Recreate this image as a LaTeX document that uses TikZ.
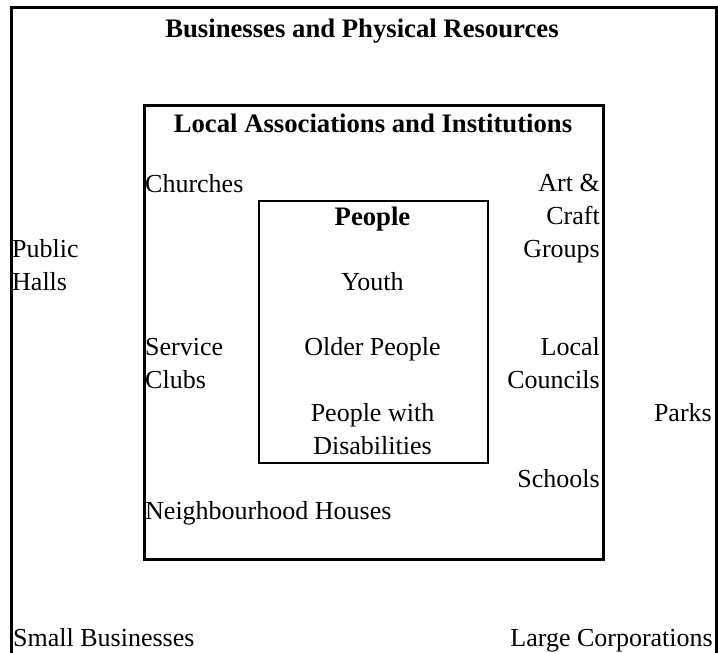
\documentclass[tikz,border=0pt]{standalone}
\usepackage{fontspec}
\setmainfont{Liberation Serif}
\begin{document}
\begin{tikzpicture}[x=1pt,y=-1pt,
  lbl/.style={inner sep=0pt, font=\fontsize{26}{33}\selectfont},
  ttl/.style={inner sep=0pt, font=\fontsize{26.7}{33}\selectfont\bfseries},
  box/.style={draw, line width=2.6pt, inner sep=0pt},
  ibox/.style={draw, line width=2.2pt, inner sep=0pt}]
\useasboundingbox (0,0) rectangle (718,653);
\clip (0,0) rectangle (718,653);
% boxes
\node[box, anchor=north west, minimum width=705pt, minimum height=680pt] (outer) at (10,6) {};
\node[box, anchor=north west, minimum width=459pt, minimum height=454pt] (middle) at (143,104) {};
\node[ibox, anchor=north west, minimum width=229pt, minimum height=262pt] (inner) at (258,200) {};
% outer labels
\node[ttl, anchor=base] (t1) at (362,37) {Businesses and Physical Resources};
\node[lbl, anchor=west, align=left] (halls) at (12,265.5) {Public\\Halls};
\node[lbl, anchor=base east] (parks) at (712,421) {Parks};
\node[lbl, anchor=base west] (small) at (13,646) {Small Businesses};
\node[lbl, anchor=base east] (large) at (713,646) {Large Corporations};
% middle labels
\node[ttl, anchor=base] (t2) at (373,132) {Local Associations and Institutions};
\node[lbl, anchor=base west] (churches) at (145,192) {Churches};
\node[lbl, anchor=east, align=right] (art) at (600,219) {Art \&\\Craft\\Groups};
\node[lbl, anchor=west, align=left] (service) at (145,363.5) {Service\\Clubs};
\node[lbl, anchor=east, align=right] (councils) at (600,363.5) {Local\\Councils};
\node[lbl, anchor=base east] (schools) at (600,487) {Schools};
\node[lbl, anchor=base west] (nh) at (145,519) {Neighbourhood Houses};
% inner labels
\node[ttl, anchor=base] (t3) at (372.5,225) {People};
\node[lbl, anchor=base] (youth) at (372.5,290) {Youth};
\node[lbl, anchor=base] (older) at (372.5,355) {Older People};
\node[lbl, align=center] (dis) at (372.5,429) {People with\\Disabilities};
\end{tikzpicture}
\end{document}
